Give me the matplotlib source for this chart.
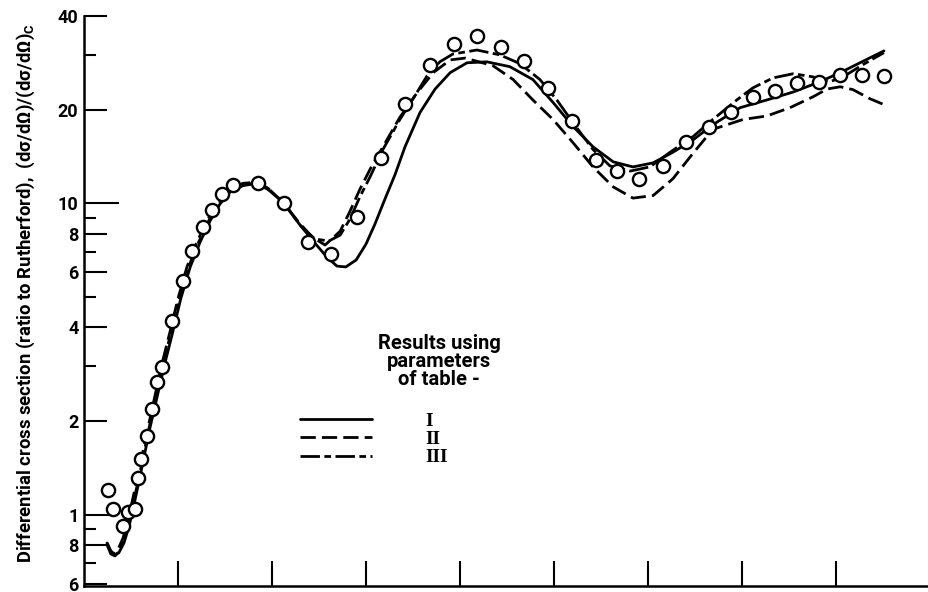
import matplotlib
matplotlib.use("Agg")
import matplotlib.pyplot as plt
from matplotlib.ticker import FixedLocator, FixedFormatter, NullFormatter

plt.rcParams["font.family"] = ["Roboto", "DejaVu Sans"]
plt.rcParams["font.weight"] = "bold"

# measured points (angle in deg, ratio to Rutherford)
meas_angle = [5.1, 6.2, 8.3, 9.4, 10.9, 11.5, 12.1, 13.4, 14.5, 15.5, 16.6, 18.7,
              21.1, 23.0, 25.3, 27.2, 29.4, 31.7, 37.0, 42.6, 47.7, 52.6, 58.1, 63.2,
              68.3, 73.6, 78.7, 83.6, 88.7, 93.6, 98.7, 103.8, 108.9, 113.4, 118.1,
              123.2, 128.1, 133.0, 137.7, 142.3, 147.0, 151.7, 156.4, 160.9, 165.5, 170.2]
meas_ratio = [1.20, 1.04, 0.92, 1.02, 1.04, 1.31, 1.51, 1.79, 2.19, 2.66, 2.99, 4.2,
              5.63, 7.03, 8.38, 9.5, 10.7, 11.5, 11.6, 10.0, 7.5, 6.87, 9.03, 14.0,
              20.9, 27.9, 32.5, 34.5, 31.8, 28.7, 23.4, 18.4, 13.8, 12.7, 12.0,
              13.2, 15.7, 17.6, 19.7, 21.9, 23.0, 24.4, 24.6, 25.9, 25.9, 25.7]

# curve I (solid)
angle_1 = [4.9, 5.7, 6.6, 7.4, 8.5, 9.6, 10.6, 11.7, 12.8, 14.0, 15.5, 17.2, 18.9, 20.6,
           22.6, 24.7, 26.8, 28.9, 31.1, 33.8, 36.6, 39.1, 42.3, 46.0, 49.1, 51.7, 53.8,
           55.7, 57.9, 60.0, 61.9, 64.0, 66.2, 68.3, 71.5, 74.7, 77.9, 81.5, 85.7, 90.6,
           95.5, 99.8, 104.0, 108.3, 112.6, 116.8, 121.1, 125.3, 129.6, 133.8, 139.6,
           145.3, 150.9, 156.0, 160.9, 165.1, 170.2]
ratio_1 = [0.811, 0.765, 0.743, 0.754, 0.811, 0.919, 1.07, 1.28, 1.54, 1.89, 2.37, 3.06,
           3.87, 4.95, 6.25, 7.51, 8.77, 9.94, 10.9, 11.4, 11.6, 11.1, 10.1, 8.51, 7.46,
           6.72, 6.29, 6.25, 6.58, 7.40, 8.58, 10.3, 12.4, 15.2, 19.6, 23.3, 26.3, 28.3,
           28.5, 27.5, 25.0, 21.1, 17.7, 15.2, 13.6, 13.1, 13.5, 14.6, 16.0, 17.9, 20.3,
           21.5, 22.8, 24.4, 26.3, 28.3, 30.9]

# curve II (dashed)
angle_2 = [4.9, 5.7, 6.4, 7.2, 8.3, 9.4, 10.4, 11.5, 12.6, 13.8, 15.1, 16.6, 18.3, 20.0,
           21.9, 24.0, 26.4, 28.7, 31.1, 33.8, 36.6, 39.1, 42.3, 45.5, 48.5, 51.3, 54.5,
           56.6, 58.7, 60.9, 63.6, 67.2, 70.9, 74.3, 77.9, 81.1, 87.0, 91.3, 95.5, 99.8,
           104.0, 108.3, 112.6, 116.8, 121.1, 125.3, 129.6, 133.8, 140.2, 145.3, 150.2,
           155.1, 158.1, 160.9, 163.6, 167.2, 171.1]
ratio_2 = [0.811, 0.760, 0.748, 0.771, 0.841, 0.962, 1.13, 1.34, 1.61, 1.96, 2.41, 3.06,
           3.87, 4.95, 6.25, 7.51, 8.91, 10.2, 11.1, 11.6, 11.7, 11.2, 10.1, 8.77, 7.80,
           7.35, 8.14, 9.44, 11.1, 12.9, 15.2, 18.9, 22.7, 26.3, 28.9, 29.3, 27.7, 25.0,
           21.5, 18.6, 15.7, 13.1, 11.3, 10.4, 10.6, 12.0, 14.5, 17.3, 18.6, 19.1, 20.3,
           22.0, 23.3, 23.7, 23.2, 21.7, 20.5]

# curve III (dash-dot)
angle_3 = [4.9, 5.7, 6.6, 7.4, 8.5, 9.6, 10.6, 11.7, 12.8, 14.0, 15.3, 16.8, 18.5, 20.2,
           22.1, 24.3, 26.6, 28.9, 31.3, 34.0, 36.8, 39.4, 42.6, 46.0, 49.1, 52.1, 54.5,
           56.6, 58.7, 60.9, 63.6, 67.2, 70.9, 73.0, 75.7, 78.5, 83.6, 88.5, 92.8, 97.0,
           100.6, 104.0, 108.3, 111.9, 116.2, 120.4, 124.7, 129.6, 133.8, 138.9, 142.3,
           146.6, 150.9, 155.1, 158.7, 161.5, 165.7, 170.2]
ratio_3 = [0.800, 0.748, 0.737, 0.760, 0.829, 0.947, 1.11, 1.32, 1.59, 1.95, 2.40, 3.03,
           3.84, 4.90, 6.17, 7.46, 8.83, 10.1, 11.0, 11.5, 11.6, 11.1, 10.0, 8.51, 7.69,
           7.57, 7.91, 8.91, 10.5, 12.2, 14.9, 18.6, 22.8, 25.7, 28.5, 30.2, 31.1, 30.0,
           28.1, 25.0, 21.5, 18.2, 14.9, 13.2, 12.7, 13.1, 14.6, 16.4, 18.6, 21.5, 23.5,
           25.3, 26.1, 25.5, 24.6, 25.5, 27.9, 30.5]

y_major = [0.6, 0.8, 1, 2, 4, 6, 8, 10, 20, 40]
y_labels = ["6", "8", "1", "2", "4", "6", "8", "10", "20", "40"]
y_minor = [0.7, 0.9, 3, 5, 7, 9, 30]
x_ticks = [20, 40, 60, 80, 100, 120, 140, 160, 180]
legend_labels = ["I", "II", "III"]
legend_title = "Results using\nparameters\nof table -"
y_title = ("Differential cross section (ratio to Rutherford),  "
           r"(dσ/dΩ)/(dσ/dΩ)$_\mathregular{C}$")

fig = plt.figure(figsize=(9.29, 5.92), dpi=100)
ax = fig.add_axes([84 / 929, 6 / 592, 846 / 929, 570 / 592])

lw = 2.0
dash_2 = (5.5, 2.2)
dash_3 = (7, 1.6, 2.4, 1.6)
l1, = ax.plot(angle_1, ratio_1, color="black", lw=lw, solid_capstyle="round")
l2, = ax.plot(angle_2, ratio_2, color="black", lw=lw, dashes=dash_2)
l3, = ax.plot(angle_3, ratio_3, color="black", lw=lw, dashes=dash_3)
ax.plot(meas_angle, meas_ratio, "o", ms=9.5, mfc="white", mec="black", mew=1.7,
        ls="none", zorder=5)

ax.set_yscale("log")
ax.set_xlim(0, 180)
ax.set_ylim(0.59, 40)
ax.yaxis.set_major_locator(FixedLocator(y_major))
ax.yaxis.set_major_formatter(FixedFormatter(y_labels))
ax.yaxis.set_minor_locator(FixedLocator(y_minor))
ax.yaxis.set_minor_formatter(NullFormatter())
ax.xaxis.set_major_locator(FixedLocator(x_ticks))
ax.xaxis.set_minor_locator(FixedLocator([]))

ax.tick_params(axis="y", which="major", direction="in", length=16.5, width=1.5,
               pad=4, labelsize=13)
ax.tick_params(axis="y", which="minor", direction="in", length=8.5, width=1.5)
ax.tick_params(axis="x", which="major", direction="in", length=18, width=1.5,
               labelbottom=False)
ticks = ax.yaxis.get_major_ticks()
ticks[y_major.index(10)].tick1line.set_markersize(25)
ticks[y_major.index(1)].tick1line.set_markersize(20)
ticks[0].label1.set_verticalalignment("center_baseline")

for side in ["top", "right"]:
    ax.spines[side].set_visible(False)
for side in ["left", "bottom"]:
    ax.spines[side].set_linewidth(1.8)

fig.text(26 / 929, 1 - 293 / 592, y_title, rotation=90, ha="center", va="center",
         fontsize=13.3)

fig.text(439 / 929, 1 - 334 / 592, legend_title, ha="center", va="top",
         multialignment="center", fontsize=14.5, linespacing=0.93)

ax.legend([l1, l2, l3], legend_labels, loc="upper left",
          bbox_to_anchor=(300 / 929, 1 - 412 / 592), bbox_transform=fig.transFigure,
          frameon=False, handlelength=3.7, handletextpad=2.75, labelspacing=0.04,
          borderpad=0, borderaxespad=0,
          prop={"family": ["Liberation Serif", "DejaVu Serif"], "weight": "bold", "size": 14})

fig.savefig("out.png", dpi=100)
